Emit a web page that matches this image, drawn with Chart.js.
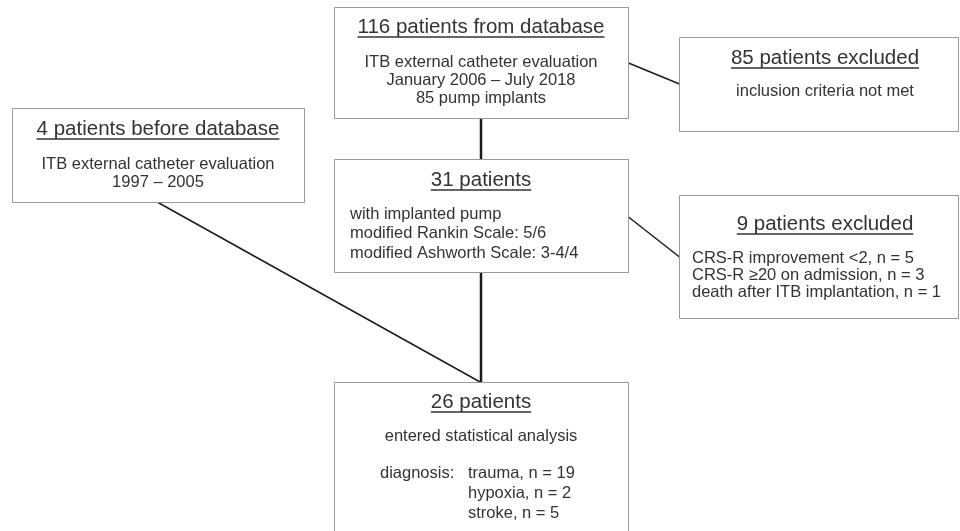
<!DOCTYPE html>
<html>
<head>
<meta charset="utf-8">
<script src="https://cdn.jsdelivr.net/npm/chart.js@4/dist/chart.umd.min.js"></script>
<style>
  html, body { margin: 0; padding: 0; background: #fff; }
  #wrap { width: 960px; height: 531px; position: relative; }
</style>
</head>
<body>
<div id="wrap"><canvas id="flow"></canvas></div>
<script>
// flowchart content
const titles = [
  '116 patients from database',
  '85 patients excluded',
  '4 patients before database',
  '31 patients',
  '9 patients excluded',
  '26 patients'
];
const bodyLines = [
  ['ITB external catheter evaluation', 'January 2006 \u2013 July 2018', '85 pump implants'],
  ['inclusion criteria not met'],
  ['ITB external catheter evaluation', '1997 \u2013 2005'],
  ['with implanted pump', 'modified Rankin Scale: 5/6', 'modified Ashworth Scale: 3-4/4'],
  ['CRS-R improvement <2, n = 5', 'CRS-R \u226520 on admission, n = 3', 'death after ITB implantation, n = 1'],
  ['entered statistical analysis']
];
const diagnosisLabel = 'diagnosis:';
const diagnoses = ['trauma, n = 19', 'hypoxia, n = 2', 'stroke, n = 5'];

// layout (page units, y goes down)
const frames = [
  [334.5, 7.5, 628.5, 118.5],
  [679.5, 37.5, 958.5, 131.5],
  [12.5, 108.5, 304.5, 202.5],
  [334.5, 159.5, 628.5, 272.5],
  [679.5, 195.5, 958.5, 318.5],
  [334.5, 382.5, 628.5, 540]
];
const titleX = [481, 825, 158, 481, 825, 481];
const titleY = [27, 58, 129, 180, 224, 402];
const bodyStartY = [62, 91, 164, 214, 258, 436];
const bodyStep = [18, 18, 18, 19.5, 17.2, 18];
const bodyAlign = ['center', 'center', 'center', 'left', 'left', 'center'];
const bodyLeftX = [0, 0, 0, 350, 692, 0];
const diagX = [380, 468];
const diagY = [473, 493, 513];

const links = [
  [481, 118.5, 481, 159.5, 2.5],
  [481, 272.5, 481, 382.5, 2.5],
  [628.5, 63, 679.5, 84, 1.5],
  [628.5, 217, 679.5, 257, 1.5],
  [158, 202.5, 481, 382.5, 1.5]
];

const datasets = [];
frames.forEach(f => {
  datasets.push({
    data: [{x: f[0], y: f[1]}, {x: f[2], y: f[1]}, {x: f[2], y: f[3]}, {x: f[0], y: f[3]}, {x: f[0], y: f[1]}],
    borderColor: '#9a9a9a', borderWidth: 1, pointRadius: 0, showLine: true, fill: false, clip: false
  });
});
links.forEach(l => {
  datasets.push({
    data: [{x: l[0], y: l[1]}, {x: l[2], y: l[3]}],
    borderColor: '#1c1c1c', borderWidth: l[4], pointRadius: 0, showLine: true, fill: false, clip: false
  });
});

const textPlugin = {
  id: 'boxText',
  afterDatasetsDraw(chart) {
    const ctx = chart.ctx;
    const xs = chart.scales.x, ys = chart.scales.y;
    ctx.save();
    ctx.fillStyle = '#333';
    ctx.textBaseline = 'middle';
    frames.forEach((f, i) => {
      const cx = xs.getPixelForValue(titleX[i]);
      // heading, underlined
      ctx.font = '20.5px "Liberation Sans", Arial, sans-serif';
      ctx.textAlign = 'center';
      const ty = ys.getPixelForValue(titleY[i]);
      ctx.fillText(titles[i], cx, ty);
      const w = ctx.measureText(titles[i]).width;
      ctx.strokeStyle = '#333';
      ctx.lineWidth = 1.6;
      ctx.beginPath();
      ctx.moveTo(cx - w / 2, ty + 10);
      ctx.lineTo(cx + w / 2, ty + 10);
      ctx.stroke();
      // body
      ctx.font = '16.5px "Liberation Sans", Arial, sans-serif';
      ctx.textAlign = bodyAlign[i];
      const bx = bodyAlign[i] === 'left' ? xs.getPixelForValue(bodyLeftX[i]) : cx;
      bodyLines[i].forEach((t, k) => {
        ctx.fillText(t, bx, ys.getPixelForValue(bodyStartY[i] + k * bodyStep[i]));
      });
    });
    ctx.textAlign = 'left';
    ctx.fillText(diagnosisLabel, xs.getPixelForValue(diagX[0]), ys.getPixelForValue(diagY[0]));
    diagnoses.forEach((t, k) => {
      ctx.fillText(t, xs.getPixelForValue(diagX[1]), ys.getPixelForValue(diagY[k]));
    });
    ctx.restore();
  }
};

new Chart(document.getElementById('flow'), {
  type: 'scatter',
  data: { datasets },
  options: {
    responsive: true,
    maintainAspectRatio: false,
    animation: false,
    layout: { padding: 0 },
    plugins: { legend: { display: false }, tooltip: { enabled: false } },
    scales: {
      x: { type: 'linear', min: 0, max: 960, display: false },
      y: { type: 'linear', min: 0, max: 531, reverse: true, display: false }
    }
  },
  plugins: [textPlugin]
});
</script>
</body>
</html>
